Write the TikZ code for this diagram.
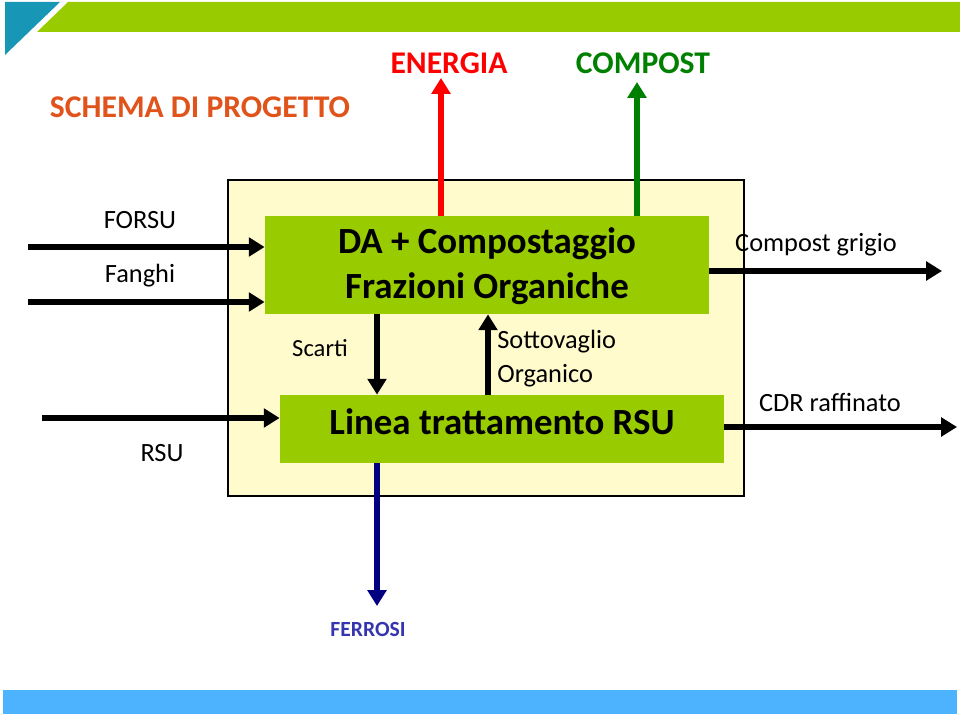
\documentclass[tikz,border=0pt]{standalone}
\usepackage{fontspec}
\setmainfont{Carlito}
\usetikzlibrary{arrows.meta}
\definecolor{lgreen}{HTML}{99CC00}
\definecolor{teal1}{HTML}{1797B5}
\definecolor{barblue}{HTML}{4DB3FF}
\definecolor{cream}{HTML}{FFFBCC}
\definecolor{orangeT}{HTML}{E0531A}
\definecolor{redA}{HTML}{FF0000}
\definecolor{greenA}{HTML}{008000}
\definecolor{navyA}{HTML}{000080}
\definecolor{ferro}{HTML}{3535B0}
\tikzset{
  flow/.style={line width=2.9pt,-{Triangle[length=9pt,width=10.5pt]}},
  procbox/.style={fill=lgreen,draw=none,inner sep=0pt,font=\bfseries,align=center},
  lbl/.style={inner sep=0pt,font=\fontsize{15}{18}\selectfont},
}
\begin{document}
\begin{tikzpicture}[x=0.02cm,y=-0.02cm]
\useasboundingbox (0,0) rectangle (960,716);
% decorations
\fill[teal1] (5,2) -- (60,2) -- (5,55) -- cycle;
\fill[lgreen] (68,2) -- (960,2) -- (960,32) -- (37,32) -- cycle;
\fill[barblue] (3,690) rectangle (957,714);
% title
\node[inner sep=0pt,text=orangeT,font=\fontsize{18}{21}\selectfont\bfseries] (title) at (200,107) {SCHEMA DI PROGETTO};
% outer box
\node[draw=black,fill=cream,line width=0.6pt,minimum width=516*0.02cm,minimum height=316*0.02cm,inner sep=0pt] (outer) at (486,338) {};
% process boxes
\node[procbox,minimum width=444*0.02cm,minimum height=98*0.02cm] (da) at (487,265) {};
\node[inner sep=0pt,align=center,font=\fontsize{21}{25.5}\selectfont\bfseries] (datxt) at (487,266) {DA + Compostaggio\\Frazioni Organiche};
\node[procbox,minimum width=444*0.02cm,minimum height=68*0.02cm] (lin) at (502,429) {};
\node[inner sep=0pt,font=\fontsize{21}{25}\selectfont\bfseries] (lintxt) at (502,422) {Linea trattamento RSU};
% top outputs
\node[inner sep=0pt,text=redA,font=\fontsize{18}{21}\selectfont\bfseries] (energia) at (449,63) {ENERGIA};
\node[inner sep=0pt,text=greenA,font=\fontsize{18}{21}\selectfont\bfseries] (compost) at (643,63) {COMPOST};
\coordinate (eT) at (441,78);
\coordinate (cT) at (637,82);
\draw[flow,draw=redA,-{Triangle[length=9pt,width=10.5pt,fill=redA]}] (da.north -| eT) -- (eT);
\draw[flow,draw=greenA,-{Triangle[length=9pt,width=10.5pt,fill=greenA]}] (da.north -| cT) -- (cT);
% inputs
\node[lbl] (forsu) at (140,220) {FORSU};
\node[lbl] (fanghi) at (140,276) {Fanghi};
\node[lbl] (rsu) at (162,453) {RSU};
\coordinate (i1) at (28,247);
\coordinate (i2) at (28,302);
\coordinate (i3) at (42,418);
\draw[flow] (i1) -- (da.west |- i1);
\draw[flow] (i2) -- (da.west |- i2);
\draw[flow] (i3) -- (lin.west |- i3);
% internal
\draw[flow] (da.south -| 377,0) -- (lin.north -| 377,0);
\draw[flow] (lin.north -| 488,0) -- (da.south -| 488,0);
\node[lbl,font=\fontsize{14}{17}\selectfont] (scarti) at (320,348) {Scarti};
\node[lbl,anchor=north west,align=left,font=\fontsize{15}{19}\selectfont] (sotto) at (497,330) {Sottovaglio\\Organico};
% outputs right
\node[lbl] (cg) at (816,245) {Compost grigio};
\node[lbl] (cdr) at (830,402) {CDR raffinato};
\coordinate (o1) at (942,271);
\coordinate (o2) at (957,427);
\draw[flow] (da.east |- o1) -- (o1);
\draw[flow] (lin.east |- o2) -- (o2);
% ferrosi
\coordinate (fT) at (377,606);
\draw[flow,draw=navyA,-{Triangle[length=9pt,width=10.5pt,fill=navyA]}] (lin.south -| fT) -- (fT);
\node[inner sep=0pt,text=ferro,font=\fontsize{12.3}{15}\selectfont\bfseries] (ferrosi) at (368,629) {FERROSI};
\end{tikzpicture}
\end{document}
